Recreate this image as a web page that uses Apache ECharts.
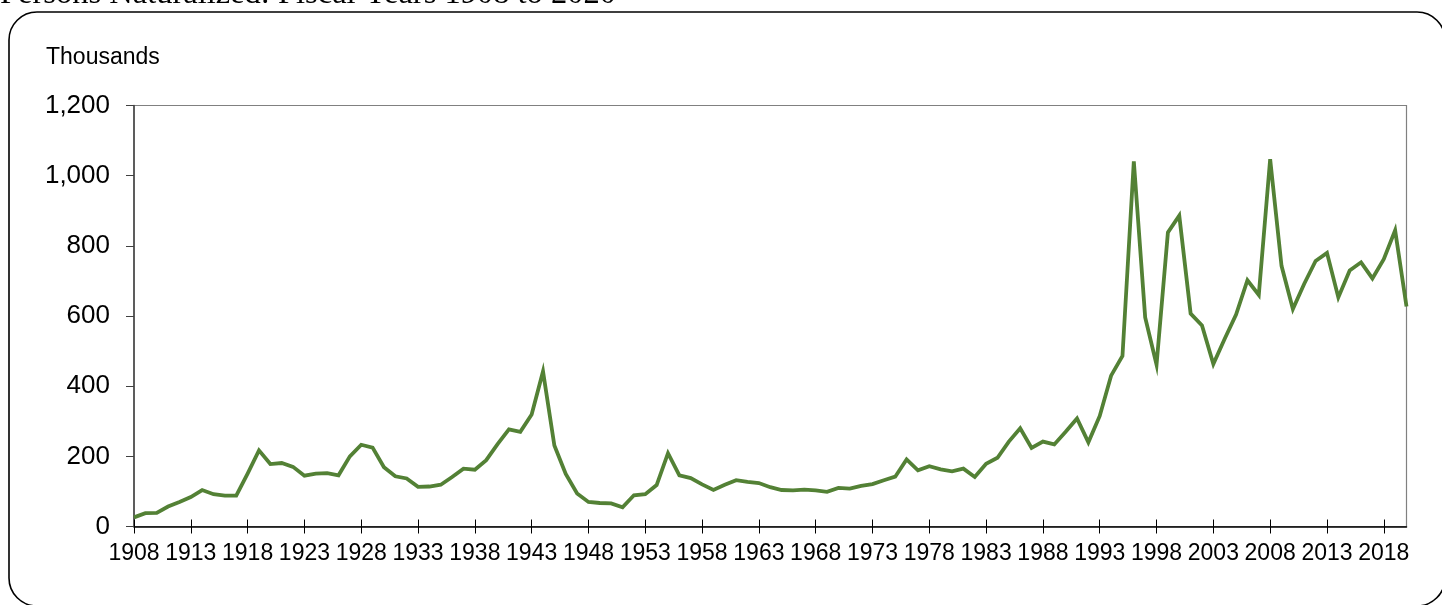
<!DOCTYPE html>
<html>
<head>
<meta charset="utf-8">
<script src="https://cdn.jsdelivr.net/npm/echarts@6/dist/echarts.min.js"></script>
<style>
html,body{margin:0;padding:0;background:#fff;}
#chart{width:1442px;height:605px;}
</style>
</head>
<body>
<div id="chart"></div>
<script>
var titleText = 'Persons Naturalized: Fiscal Years 1908 to 2020';
var unitLabel = 'Thousands';

var years = [
  '1908','1909','1910','1911','1912','1913','1914','1915','1916','1917',
  '1918','1919','1920','1921','1922','1923','1924','1925','1926','1927',
  '1928','1929','1930','1931','1932','1933','1934','1935','1936','1937',
  '1938','1939','1940','1941','1942','1943','1944','1945','1946','1947',
  '1948','1949','1950','1951','1952','1953','1954','1955','1956','1957',
  '1958','1959','1960','1961','1962','1963','1964','1965','1966','1967',
  '1968','1969','1970','1971','1972','1973','1974','1975','1976','1977',
  '1978','1979','1980','1981','1982','1983','1984','1985','1986','1987',
  '1988','1989','1990','1991','1992','1993','1994','1995','1996','1997',
  '1998','1999','2000','2001','2002','2003','2004','2005','2006','2007',
  '2008','2009','2010','2011','2012','2013','2014','2015','2016','2017',
  '2018','2019','2020'
];

// Persons naturalized, thousands
var naturalized = [
  26, 38, 39, 57, 70, 84, 104, 92, 88, 88,
  151, 217, 178, 181, 170, 145, 151, 152, 146, 200,
  233, 225, 169, 143, 137, 113, 114, 119, 141, 165,
  162, 189, 235, 277, 270, 319, 442, 231, 150, 94,
  70, 67, 66, 55, 89, 92, 118, 209, 146, 138,
  120, 104, 119, 132, 127, 124, 112, 104, 103, 105,
  103, 99, 110, 108, 116, 121, 132, 142, 191, 160,
  172, 163, 157, 165, 141, 179, 196, 242, 280, 224,
  242, 234, 270, 308, 240, 315, 430, 486, 1041, 596,
  461, 838, 886, 607, 573, 463, 535, 604, 702, 660,
  1047, 743, 620, 692, 757, 780, 653, 730, 753, 707,
  762, 844, 627
];

var yTicks = [0, 200, 400, 600, 800, 1000, 1200];

var chart = echarts.init(document.getElementById('chart'), null, {renderer: 'canvas'});

var option = {
  animation: false,
  backgroundColor: '#ffffff',
  grid: {
    left: 134, right: 35.5, top: 105.5, bottom: 78.5,
    show: true, borderColor: '#808080', borderWidth: 1.2, backgroundColor: 'transparent'
  },
  graphic: [
    {
      type: 'rect', z: -1, silent: true,
      shape: {x: 9, y: 12, width: 1436, height: 594, r: 28},
      style: {fill: 'none', stroke: '#000000', lineWidth: 1.6}
    },
    {
      type: 'text', silent: true,
      x: 0, y: -5.8,
      style: {text: titleText, font: '32.5px "Liberation Serif", "Times New Roman", serif',
              fill: '#000000', verticalAlign: 'middle', align: 'left'}
    },
    {
      type: 'text', silent: true,
      x: 46, y: 57.5,
      style: {text: unitLabel, font: '23px "Liberation Sans", Arial, sans-serif',
              fill: '#000000', verticalAlign: 'middle', align: 'left'}
    }
  ],
  xAxis: [
    {
      type: 'category',
      data: years,
      boundaryGap: false,
      axisLine: {show: true, lineStyle: {color: '#000000', width: 1.5}},
      axisTick: {show: true, interval: 4, length: 7, lineStyle: {color: '#000000', width: 1}},
      axisLabel: {show: true, interval: 4, hideOverlap: false, margin: 16,
                  fontSize: 23, color: '#000000', fontFamily: '"Liberation Sans", Arial, sans-serif'},
      splitLine: {show: false}
    },
    {
      type: 'category',
      data: years,
      position: 'bottom',
      offset: 0,
      boundaryGap: false,
      axisLine: {show: false},
      axisTick: {show: true, inside: true, interval: 4, length: 7, lineStyle: {color: '#000000', width: 1}},
      axisLabel: {show: false},
      splitLine: {show: false}
    }
  ],
  yAxis: {
    type: 'value',
    min: yTicks[0],
    max: yTicks[yTicks.length - 1],
    interval: 200,
    axisLine: {show: true, lineStyle: {color: '#404040', width: 1.5}},
    axisTick: {show: true, length: 8, lineStyle: {color: '#404040', width: 1}},
    axisLabel: {
      margin: 24, fontSize: 26, color: '#000000',
      fontFamily: '"Liberation Sans", Arial, sans-serif',
      formatter: function (v) { return v.toLocaleString('en-US'); }
    },
    splitLine: {show: false}
  },
  series: [
    {
      type: 'line',
      name: 'Persons naturalized',
      xAxisIndex: 0,
      data: naturalized,
      symbol: 'none',
      smooth: false,
      lineStyle: {color: '#538135', width: 3.8, join: 'miter'},
      z: 3
    }
  ]
};

chart.setOption(option);
</script>
</body>
</html>
